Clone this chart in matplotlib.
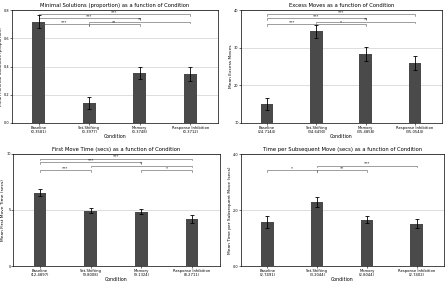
import matplotlib
matplotlib.use('Agg')
import matplotlib.pyplot as plt
import numpy as np

conditions = ['Baseline', 'Set-Shifting', 'Memory', 'Response Inhibition']

sol_se_lbl = ['(0.3581)', '(0.3977)', '(0.3748)', '(0.3712)']
sol_mean = [0.718, 0.141, 0.353, 0.348]
sol_err = [0.047, 0.042, 0.045, 0.050]

exc_se_lbl = ['(24.7144)', '(34.6490)', '(35.4858)', '(35.0544)']
exc_mean = [15.0, 34.3, 28.3, 25.9]
exc_err = [1.6, 1.8, 1.9, 1.9]

fmt_se_lbl = ['(12.4897)', '(9.8008)', '(9.1324)', '(8.2711)']
fmt_mean = [6.55, 4.94, 4.85, 4.17]
fmt_err = [0.30, 0.22, 0.22, 0.36]

tps_se_lbl = ['(2.7491)', '(3.2044)', '(2.8044)', '(2.7402)']
tps_mean = [1.57, 2.30, 1.66, 1.51]
tps_err = [0.20, 0.18, 0.14, 0.17]

# (i, j, stars, height as axes fraction)
sol_sig = [(0, 1, '***', 0.874), (1, 2, '**', 0.874), (1, 3, '**', 0.897),
           (0, 2, '***', 0.926), (0, 3, '***', 0.962)]
exc_sig = [(0, 1, '***', 0.874), (1, 2, '*', 0.874), (1, 3, '**', 0.897),
           (0, 2, '***', 0.926), (0, 3, '***', 0.962)]
fmt_sig = [(0, 1, '***', 0.855), (2, 3, '*', 0.855), (1, 3, '*', 0.896),
           (0, 2, '***', 0.926), (0, 3, '***', 0.958)]
tps_sig = [(0, 1, '*', 0.855), (1, 2, '**', 0.855), (1, 3, '***', 0.896)]

panels = [
    ('Minimal Solutions (proportion) as a function of Condition',
     'Mean Minimal Solutions (proportion)', sol_mean, sol_err, sol_se_lbl,
     sol_sig, (0, 0.8), [0, 0.2, 0.4, 0.6, 0.8], '%.1f',
     [12, 10, 218, 123]),
    ('Excess Moves as a function of Condition', 'Mean Excess Moves',
     exc_mean, exc_err, exc_se_lbl, exc_sig, (10, 40), [10, 20, 30, 40], '%d',
     [241, 10, 442, 123]),
    ('First Move Time (secs) as a function of Condition',
     'Mean First Move Time (secs)', fmt_mean, fmt_err, fmt_se_lbl, fmt_sig,
     (0, 10), [0, 5, 10], '%d', [13, 154, 220, 266]),
    ('Time per Subsequent Move (secs) as a function of Condition',
     'Mean Time per Subsequent Move (secs)', tps_mean, tps_err, tps_se_lbl,
     tps_sig, (0, 4), [0, 2, 4], '%.1f', [241, 154, 444, 266]),
]

W, H = 448, 281
fig = plt.figure(figsize=(W / 100, H / 100), dpi=100)
x = np.arange(len(conditions))

for title, ylab, mean, err, se, sig, ylim, yt, yfmt, box in panels:
    l, t, r, b = box
    ax = fig.add_axes([l / W, 1 - b / H, (r - l) / W, (b - t) / H])
    ax.bar(x, mean, width=0.25, color='#4a4a4a', zorder=2)
    ax.errorbar(x, mean, yerr=err, fmt='none', ecolor='black',
                elinewidth=0.6, capsize=1.5, capthick=0.6, zorder=3)
    ax.set_xlim(-0.53, 3.55)
    ax.set_ylim(*ylim)
    ax.set_yticks(yt)
    ax.set_yticklabels([yfmt % v for v in yt])
    ax.yaxis.grid(True, color='#d0d0d0', linewidth=0.5, zorder=0)
    ax.set_xticks(x)
    ax.set_xticklabels([c + '\n' + s for c, s in zip(conditions, se)],
                       fontsize=2.7, linespacing=0.95)
    ax.tick_params(axis='y', labelsize=2.5, length=1.2, width=0.4, pad=0.5)
    ax.tick_params(axis='x', length=1.2, width=0.4, pad=0.8)
    ax.set_title(title, fontsize=3.8, pad=2)
    ax.set_ylabel(ylab, fontsize=3.2, labelpad=0.5)
    ax.set_xlabel('Condition', fontsize=3.4, labelpad=0)
    for s in ax.spines.values():
        s.set_linewidth(0.5)
    trans = ax.get_xaxis_transform()
    for i, j, stars, h in sig:
        ax.plot([x[i], x[i], x[j], x[j]], [h - 0.012, h, h, h - 0.012],
                color='#555555', linewidth=0.4, transform=trans,
                clip_on=False)
        ax.text((x[i] + x[j]) / 2, h + 0.003, stars, fontsize=3,
                ha='center', va='bottom', transform=trans)

fig.savefig('out.png', dpi=100)
